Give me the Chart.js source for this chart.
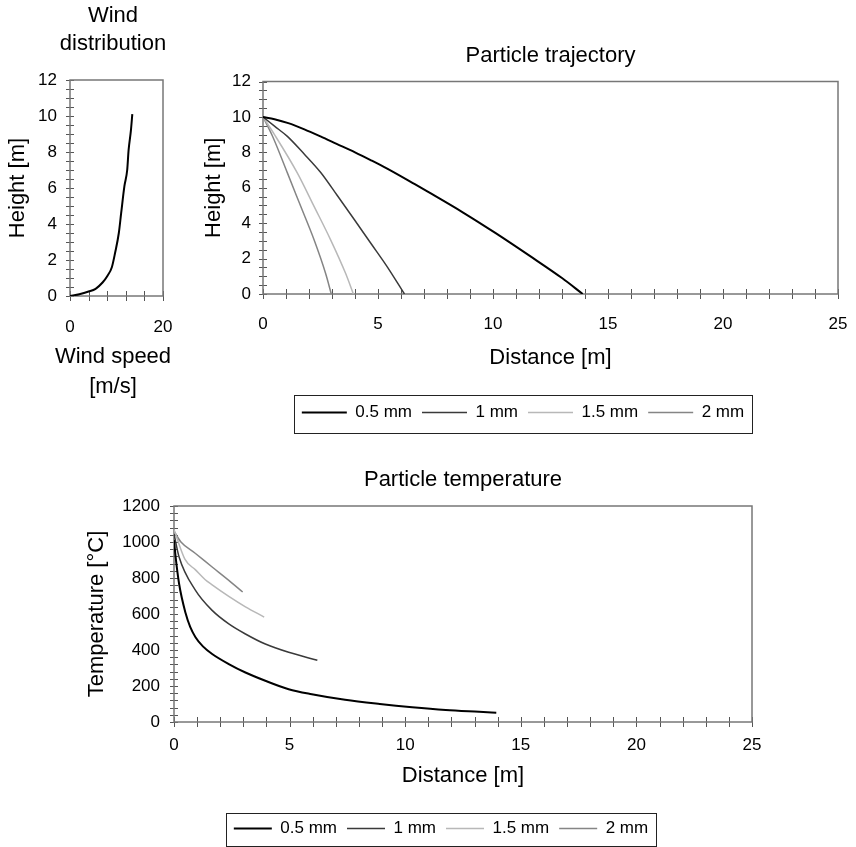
<!DOCTYPE html>
<html lang="en">
<head>
<meta charset="UTF-8">
<title>Wind distribution, particle trajectory and temperature</title>
<script src="https://cdn.jsdelivr.net/npm/chart.js"></script>
<style>
  body { margin: 0; background: #fff; }
  #wrap { position: relative; width: 856px; height: 847px; overflow: hidden; }
  canvas { position: absolute; }
</style>
</head>
<body>
<div id="wrap">
  <canvas id="wind" width="226" height="406" style="left:0;top:0"></canvas>
  <canvas id="traj" width="690" height="437" style="left:178px;top:0"></canvas>
  <canvas id="temp" width="762" height="407" style="left:60px;top:440px"></canvas>
</div>
<script>
// particle sizes (legend)
const sizeLabels = ['0.5 mm', '1 mm', '1.5 mm', '2 mm'];

// wind profile
const windSpeed  = [0, 2, 4, 5.5, 7, 8, 9, 9.7, 10.5, 11, 11.7, 12.3, 12.6, 13.1, 13.4];
const windHeight = [0, 0.1, 0.25, 0.4, 0.75, 1.1, 1.6, 2.4, 3.5, 4.6, 6.1, 7.0, 8.1, 9.2, 10.1];

// trajectories: distance [m] / height [m]
const traj05X = [0, 0.5, 1.1, 1.8, 2.5, 3.2, 4.0, 4.7, 5.4, 6.6, 7.2, 8.7, 10.1, 11.6, 13.0, 13.9];
const traj05Y = [10, 9.87, 9.65, 9.3, 8.9, 8.48, 8.0, 7.55, 7.08, 6.2, 5.75, 4.6, 3.45, 2.15, 0.9, 0];
const traj10X = [0, 0.5, 1.06, 1.78, 2.51, 3.23, 3.96, 4.68, 5.41, 6.15];
const traj10Y = [10, 9.48, 8.9, 7.92, 6.86, 5.56, 4.22, 2.88, 1.52, 0];
const traj15X = [0, 0.5, 1.49, 2.22, 2.94, 3.59, 3.93];
const traj15Y = [10, 9.0, 6.84, 4.95, 3.06, 1.17, 0];
const traj20X = [0, 0.41, 1.06, 1.64, 2.22, 2.72, 2.97];
const traj20Y = [10, 8.92, 6.84, 4.95, 3.06, 1.17, 0];

// temperatures: distance [m] / temperature [°C]
const temp05X = [0, 0.07, 0.22, 0.5, 0.7, 0.93, 1.25, 1.65, 2.37, 3.09, 3.95, 4.96, 5.96, 7.4, 8.9, 10.3, 11.75, 13.2, 13.94];
const temp05Y = [1010, 917, 768, 605, 528, 471, 420, 378, 322, 275, 229, 182, 154, 123, 100, 82, 67, 57, 52];
const temp10X = [0, 0.22, 0.93, 1.65, 2.37, 3.09, 3.95, 4.96, 6.2];
const temp10Y = [1045, 917, 731, 620, 545, 489, 433, 387, 343];
const temp15X = [0, 0.47, 0.93, 1.34, 1.65, 2.37, 3.09, 3.9];
const temp15Y = [1070, 905, 845, 792, 762, 698, 640, 583];
const temp20X = [0, 0.3, 0.93, 1.65, 2.37, 2.97];
const temp20Y = [1060, 1000, 936, 861, 787, 722];

const lineStyles = [
  { color: '#000000', width: 2 },
  { color: '#3a3a3a', width: 1.5 },
  { color: '#b8b8b8', width: 1.5 },
  { color: '#858585', width: 1.5 }
];

Chart.defaults.font.family = "'Liberation Sans', Arial, Helvetica, sans-serif";
Chart.defaults.color = '#000';

const pts = (xs, ys) => xs.map((x, i) => ({ x: x, y: ys[i] }));

function line(label, xs, ys, style) {
  return {
    label: label,
    data: pts(xs, ys),
    showLine: true,
    borderColor: style.color,
    backgroundColor: style.color,
    borderWidth: style.width,
    pointRadius: 0,
    cubicInterpolationMode: 'monotone'
  };
}

// linear axis with minor ticks every `step`, labels every `every`
function axis(pos, min, max, step, every, labelPad, size, title, titlePad) {
  return {
    type: 'linear', position: pos, min: min, max: max,
    grid: { display: false, drawTicks: false },
    border: { display: false },
    ticks: {
      stepSize: step, autoSkip: false, maxRotation: 0, padding: labelPad,
      font: { size: 17 },
      callback: v => Math.abs(v / every - Math.round(v / every)) < 1e-6 ? String(v) : ''
    },
    title: { display: !!title, text: title, font: { size: 22 }, padding: titlePad },
    afterFit: s => { if (s.isHorizontal()) s.height = size; else s.width = size; }
  };
}

// empty right-hand box to hold the plot edge in place
function spacer(width) {
  return {
    type: 'linear', position: 'right', display: true,
    grid: { display: false, drawTicks: false }, border: { display: false },
    ticks: { display: false },
    afterFit: s => { s.width = width; }
  };
}

// plot frame, crossing tick marks and legend box
const frame = {
  id: 'frame',
  beforeDatasetsDraw(chart) {
    const { ctx, chartArea: a } = chart;
    const x = chart.scales.x, y = chart.scales.y;
    ctx.save();
    ctx.strokeStyle = '#555';
    ctx.lineWidth = 1;
    ctx.beginPath();
    x.ticks.forEach(t => {
      const p = Math.round(x.getPixelForValue(t.value)) + 0.5;
      ctx.moveTo(p, a.bottom - 5);
      ctx.lineTo(p, a.bottom + 5);
    });
    y.ticks.forEach(t => {
      const p = Math.round(y.getPixelForValue(t.value)) + 0.5;
      ctx.moveTo(a.left - 4, p);
      ctx.lineTo(a.left + 4, p);
    });
    ctx.stroke();
    ctx.strokeStyle = '#777';
    ctx.lineWidth = 1.5;
    ctx.strokeRect(a.left, a.top, a.right - a.left, a.bottom - a.top);
    ctx.restore();
  },
  afterDraw(chart, args, opts) {
    const lg = chart.legend;
    if (!lg || !lg.options.display || !lg.legendHitBoxes.length) return;
    const hb = lg.legendHitBoxes;
    const l = Math.min(...hb.map(b => b.left)) - 8;
    const r = Math.max(...hb.map(b => b.left + b.width)) + 8;
    const t = hb[0].top - opts.padTop;
    const b = hb[0].top + hb[0].height + opts.padBottom;
    const ctx = chart.ctx;
    ctx.save();
    ctx.strokeStyle = '#222';
    ctx.lineWidth = 1;
    ctx.strokeRect(Math.round(l) + 0.5, Math.round(t) + 0.5, Math.round(r - l), Math.round(b - t));
    ctx.restore();
  }
};

function legendOpts(sample) {
  return {
    display: true, position: 'bottom',
    labels: { usePointStyle: true, pointStyle: 'line', pointStyleWidth: sample, padding: 10, font: { size: 17 } }
  };
}

// wind distribution
new Chart(document.getElementById('wind'), {
  type: 'scatter',
  data: { datasets: [line('Wind', windSpeed, windHeight, lineStyles[0])] },
  options: {
    responsive: false, animation: false,
    plugins: {
      legend: { display: false },
      tooltip: { enabled: false },
      title: {
        display: true, text: ['Wind', 'distribution'],
        font: { size: 22, weight: 'normal', lineHeight: '28px' }, padding: { top: 2, bottom: 22 }
      },
      subtitle: {
        display: true, position: 'bottom', text: ['Wind speed', '[m/s]'],
        font: { size: 22, weight: 'normal', lineHeight: '30px' }, padding: { top: 6, bottom: 4 }
      }
    },
    scales: {
      x: axis('bottom', 0, 20, 4, 20, 21, 40, '', { top: 0, bottom: 0 }),
      y: axis('left', 0, 12, 0.5, 2, 13, 70, 'Height [m]', { top: 4.8, bottom: 0 }),
      pad: spacer(63)
    }
  },
  plugins: [frame]
});

// particle trajectory
new Chart(document.getElementById('traj'), {
  type: 'scatter',
  data: {
    datasets: [
      line(sizeLabels[0], traj05X, traj05Y, lineStyles[0]),
      line(sizeLabels[1], traj10X, traj10Y, lineStyles[1]),
      line(sizeLabels[2], traj15X, traj15Y, lineStyles[2]),
      line(sizeLabels[3], traj20X, traj20Y, lineStyles[3])
    ]
  },
  options: {
    responsive: false, animation: false,
    layout: { padding: { bottom: 6 } },
    plugins: {
      legend: legendOpts(45),
      tooltip: { enabled: false },
      title: {
        display: true, fullSize: false, text: 'Particle trajectory',
        font: { size: 22, weight: 'normal' }, padding: { top: 42.8, bottom: 12.3 }
      },
      frame: { padTop: 9, padBottom: 12 }
    },
    scales: {
      x: axis('bottom', 0, 25, 1, 5, 20, 100, 'Distance [m]', { top: 0, bottom: 22.8 }),
      y: axis('left', 0, 12, 0.5, 2, 12, 85, 'Height [m]', { top: 22.8, bottom: 0 }),
      pad: spacer(30)
    }
  },
  plugins: [frame]
});

// particle temperature
new Chart(document.getElementById('temp'), {
  type: 'scatter',
  data: {
    datasets: [
      line(sizeLabels[0], temp05X, temp05Y, lineStyles[0]),
      line(sizeLabels[1], temp10X, temp10Y, lineStyles[1]),
      line(sizeLabels[2], temp15X, temp15Y, lineStyles[2]),
      line(sizeLabels[3], temp20X, temp20Y, lineStyles[3])
    ]
  },
  options: {
    responsive: false, animation: false,
    plugins: {
      legend: legendOpts(38),
      tooltip: { enabled: false },
      title: {
        display: true, fullSize: false, text: 'Particle temperature',
        font: { size: 22, weight: 'normal' }, padding: { top: 26.8, bottom: 12.8 }
      },
      frame: { padTop: 7, padBottom: 9 }
    },
    scales: {
      x: axis('bottom', 0, 25, 1, 5, 13, 88, 'Distance [m]', { top: 0, bottom: 20.8 }),
      y: axis('left', 0, 1200, 40, 200, 14, 114, 'Temperature [°C]', { top: 23.5, bottom: 0 }),
      pad: spacer(70)
    }
  },
  plugins: [frame]
});
</script>
</body>
</html>
